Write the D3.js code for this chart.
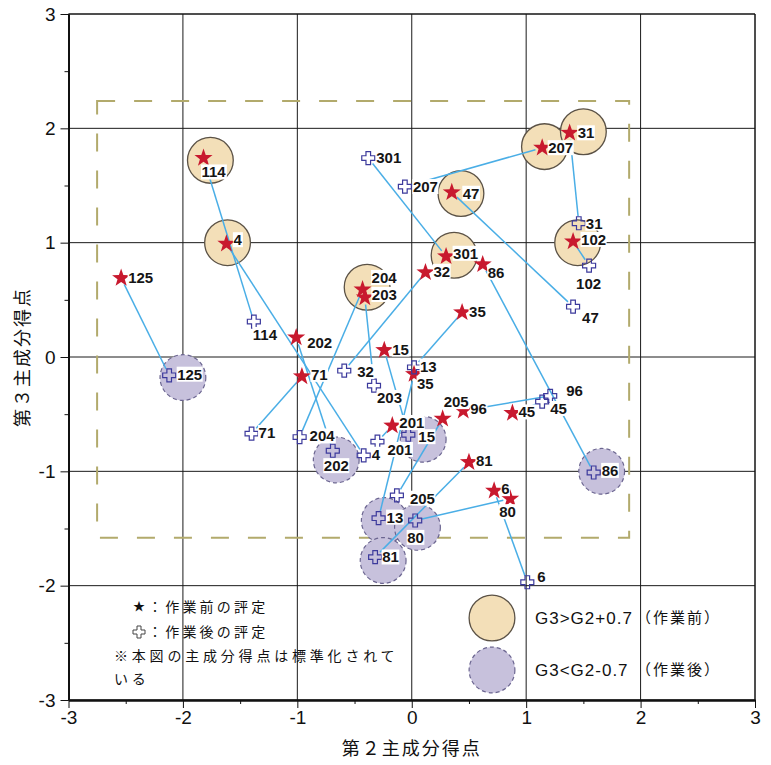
<!DOCTYPE html>
<html>
<head>
<meta charset="utf-8">
<script src="https://cdn.jsdelivr.net/npm/d3@7"></script>
<style>
  html, body { margin: 0; padding: 0; background: #fff; }
  svg { display: block; }
</style>
</head>
<body>
<script>
// ---------------- DATA ----------------
const xTicks = [-3, -2, -1, 0, 1, 2, 3];
const yTicks = [-3, -2, -1, 0, 1, 2, 3];
const xTickLabels = ["-3", "-2", "-1", "0", "1", "2", "3"];
const yTickLabels = ["-3", "-2", "-1", "0", "1", "2", "3"];
const xTitle = "第２主成分得点";
const yTitle = "第３主成分得点";

// before work (stars)
const starIds = ["125","114","4","202","71","204","203","32","301","47","86","35","15","13","201","205","96","45","81","6","80","207","31","102"];
const starX = [-2.54,-1.82,-1.62,-1.01,-0.96,-0.43,-0.41,0.12,0.30,0.35,0.62,0.44,-0.24,0.02,-0.17,0.27,0.45,0.88,0.50,0.72,0.86,1.14,1.38,1.41];
const starY = [0.69,1.74,0.99,0.17,-0.17,0.59,0.52,0.74,0.88,1.44,0.81,0.39,0.06,-0.15,-0.60,-0.54,-0.47,-0.49,-0.92,-1.17,-1.24,1.83,1.96,1.01];

// after work (crosses)
const crossIds = ["125","114","4","202","71","204","203","32","301","47","86","35","15","13","201","205","96","45","81","6","80","207","31","102"];
const crossX = [-2.12,-1.38,-0.42,-0.69,-1.40,-0.98,-0.33,-0.59,-0.38,1.41,1.59,0.02,-0.03,-0.29,-0.30,-0.13,1.21,1.14,-0.32,1.01,0.03,-0.06,1.46,1.55];
const crossY = [-0.16,0.31,-0.86,-0.82,-0.67,-0.70,-0.25,-0.12,1.74,0.44,-1.01,-0.09,-0.68,-1.41,-0.74,-1.21,-0.34,-0.39,-1.75,-1.97,-1.43,1.49,1.17,0.80];

// highlight circles: G3>G2+0.7 (before), G3<G2-0.7 (after)
const hiBeforeX = [-1.76,-1.61,-0.39,0.37,0.43,1.16,1.50,1.45];
const hiBeforeY = [1.72,1.00,0.61,0.89,1.43,1.84,1.97,1.00];
const hiAfterX = [-2.00,-0.66,0.10,1.66,-0.24,0.05,-0.25];
const hiAfterY = [-0.18,-0.90,-0.72,-1.00,-1.43,-1.49,-1.78];
const hiRadius = 0.2;

// region box
const boxX = [-2.75, 1.90];
const boxY = [-1.58, 2.24];

const legendBefore = "G3>G2+0.7";
const legendBeforeJ = "（作業前）";
const legendAfter = "G3<G2-0.7";
const legendAfterJ = "（作業後）";
const noteStar = "：作業前の評定";
const noteCross = "：作業後の評定";
const note1 = "※本図の主成分得点は標準化されて";
const note2 = "いる";

// ---------------- LAYOUT (label placement, px) ----------------
const starLabelOff = {
  "125":[7,-1],"114":[-2,14],"4":[7,-4],"202":[11,5],"71":[9,-2],"204":[9,-12],"203":[7,-3],
  "32":[8,-1],"301":[7,-3],"47":[11,1],"86":[5,8],"35":[7,-1],"15":[8,-1],"13":[6,-8],
  "201":[7,-3],"205":[1,-17],"96":[7,-2],"45":[6,-1],"81":[7,-2],"6":[7,-2],"80":[-11,13],
  "207":[6,0],"31":[8,0],"102":[8,-2]
};
const crossLabelOff = {
  "125":[8,-1],"114":[-1,13],"4":[8,-1],"202":[-9,15],"71":[7,-1],"204":[10,-1],"203":[3,12],
  "32":[13,1],"301":[8,0],"47":[9,11],"86":[8,-2],"35":[3,16],"15":[10,2],"13":[8,-1],
  "201":[10,8],"205":[13,3],"96":[16,-5],"45":[8,7],"81":[7,0],"6":[10,-6],"80":[-8,17],
  "207":[8,0],"31":[7,0],"102":[-13,18]
};

const W = 771, H = 765;
const svg = d3.select("body").append("svg").attr("width", W).attr("height", H);
const x = d3.scaleLinear().domain([-3, 3]).range([68.5, 755]);
const y = d3.scaleLinear().domain([-3, 3]).range([700, 14]);
const rPx = x(hiRadius) - x(0);

const LATIN = "'Liberation Sans', Arial, Helvetica, sans-serif";
const CJK = "'Noto Sans CJK JP', 'Noto Sans', sans-serif";

// grid
const grid = svg.append("g");
xTicks.forEach(v => {
  grid.append("line").attr("x1", x(v)).attr("x2", x(v)).attr("y1", y(3)).attr("y2", y(-3))
    .attr("stroke", "#1a1a1a").attr("stroke-width", 1);
});
yTicks.forEach(v => {
  grid.append("line").attr("x1", x(-3)).attr("x2", x(3)).attr("y1", y(v)).attr("y2", y(v))
    .attr("stroke", "#1a1a1a").attr("stroke-width", 1);
});

// dashed region box
svg.append("rect")
  .attr("x", x(boxX[0])).attr("y", y(boxY[1]))
  .attr("width", x(boxX[1]) - x(boxX[0])).attr("height", y(boxY[0]) - y(boxY[1]))
  .attr("fill", "none").attr("stroke", "#b2aa6c").attr("stroke-width", 2)
  .attr("stroke-dasharray", "18,19");

// highlight circles
svg.append("g").selectAll("circle").data(hiBeforeX.map((d, i) => [d, hiBeforeY[i]]))
  .join("circle").attr("cx", d => x(d[0])).attr("cy", d => y(d[1])).attr("r", rPx)
  .attr("fill", "#f3dfb8").attr("stroke", "#5b5246").attr("stroke-width", 1.3);
svg.append("g").selectAll("circle").data(hiAfterX.map((d, i) => [d, hiAfterY[i]]))
  .join("circle").attr("cx", d => x(d[0])).attr("cy", d => y(d[1])).attr("r", rPx)
  .attr("fill", "#c7c1dc").attr("stroke", "#6b6590").attr("stroke-width", 1.2)
  .attr("stroke-dasharray", "4,3");

// connecting lines
const stars = starIds.map((id, i) => ({ id, x: starX[i], y: starY[i] }));
const crosses = crossIds.map((id, i) => ({ id, x: crossX[i], y: crossY[i] }));
const pairs = stars.map(s => ({ s, c: crosses.find(c => c.id === s.id) })).filter(p => p.c);
const gap = 7;
const lineG = svg.append("g");
pairs.forEach(p => {
  const x1 = x(p.s.x), y1 = y(p.s.y), x2 = x(p.c.x), y2 = y(p.c.y);
  const L = Math.hypot(x2 - x1, y2 - y1);
  if (L < 2 * gap + 6) return;
  const ux = (x2 - x1) / L, uy = (y2 - y1) / L;
  lineG.append("line")
    .attr("x1", x1 + ux * gap).attr("y1", y1 + uy * gap)
    .attr("x2", x2 - ux * gap).attr("y2", y2 - uy * gap)
    .attr("stroke", "#4aaee6").attr("stroke-width", 1.5);
});

// marker shapes
function starPath(R) {
  const r = R * 0.4;
  let d = "";
  for (let k = 0; k < 10; k++) {
    const a = -Math.PI / 2 + k * Math.PI / 5;
    const rr = k % 2 === 0 ? R : r;
    d += (k === 0 ? "M" : "L") + (rr * Math.cos(a)).toFixed(2) + "," + (rr * Math.sin(a)).toFixed(2);
  }
  return d + "Z";
}
function crossPath(h, w) {
  return `M${-w},${-h}H${w}V${-w}H${h}V${w}H${w}V${h}H${-w}V${w}H${-h}V${-w}H${-w}Z`;
}

svg.append("g").selectAll("path").data(stars).join("path")
  .attr("d", starPath(9.5))
  .attr("transform", d => `translate(${x(d.x)},${y(d.y)})`)
  .attr("fill", "#c8192e");

svg.append("g").selectAll("path").data(crosses).join("path")
  .attr("d", crossPath(6.5, 2.3))
  .attr("transform", d => `translate(${x(d.x)},${y(d.y)})`)
  .attr("fill", "none").attr("stroke", "#3c3a9c").attr("stroke-width", 1.2);

// labels
const labG = svg.append("g");
function addLabel(px, py, txt) {
  const g = labG.append("g");
  const t = g.append("text").attr("x", px).attr("y", py).attr("dy", "0.36em")
    .attr("font-family", LATIN).attr("font-size", 15).attr("font-weight", "bold")
    .attr("fill", "#151515").text(txt);
  const b = t.node().getBBox();
  g.insert("rect", "text").attr("x", b.x - 0.5).attr("y", b.y + 1).attr("width", b.width + 1)
    .attr("height", b.height - 2).attr("fill", "#fff");
}
stars.forEach(s => {
  const o = starLabelOff[s.id] || [7, 0];
  addLabel(x(s.x) + o[0], y(s.y) + o[1], s.id);
});
crosses.forEach(c => {
  const o = crossLabelOff[c.id] || [7, 0];
  addLabel(x(c.x) + o[0], y(c.y) + o[1], c.id);
});

// axes
const axB = svg.append("g").attr("transform", `translate(0,${y(-3)})`)
  .call(d3.axisBottom(x).tickValues(xTicks).tickSize(8).tickSizeOuter(0).tickPadding(3)
    .tickFormat((d, i) => xTickLabels[i]));
const axBm = svg.append("g").attr("transform", `translate(0,${y(-3)})`)
  .call(d3.axisBottom(x).tickValues(d3.range(-2.5, 3, 1)).tickSize(4).tickSizeOuter(0).tickFormat(""));
const axL = svg.append("g").attr("transform", `translate(${x(-3)},0)`)
  .call(d3.axisLeft(y).tickValues(yTicks).tickSize(8).tickSizeOuter(0).tickPadding(5)
    .tickFormat((d, i) => yTickLabels[i]));
const axLm = svg.append("g").attr("transform", `translate(${x(-3)},0)`)
  .call(d3.axisLeft(y).tickValues(d3.range(-2.5, 3, 1)).tickSize(4).tickSizeOuter(0).tickFormat(""));
[axB, axL, axBm, axLm].forEach(a => {
  a.select(".domain").attr("stroke", "#111").attr("stroke-width", 2);
  a.selectAll(".tick line").attr("stroke", "#111").attr("stroke-width", 1);
  a.selectAll("text").attr("font-family", LATIN).attr("font-size", 19).attr("fill", "#111");
});
svg.append("line").attr("x1", x(-3)).attr("x2", x(3)).attr("y1", y(3)).attr("y2", y(3)).attr("stroke", "#111").attr("stroke-width", 1);
svg.append("line").attr("x1", x(3)).attr("x2", x(3)).attr("y1", y(3)).attr("y2", y(-3)).attr("stroke", "#111").attr("stroke-width", 1);

// axis titles
svg.append("text").attr("x", x(0)).attr("y", 749).attr("dy", "0.36em").attr("text-anchor", "middle")
  .attr("font-family", CJK).attr("font-size", 18).attr("letter-spacing", 2).attr("fill", "#111").text(xTitle);
svg.append("text").attr("transform", `translate(23,${y(0)}) rotate(-90)`).attr("dy", "0.36em")
  .attr("text-anchor", "middle")
  .attr("font-family", CJK).attr("font-size", 18).attr("letter-spacing", 2).attr("fill", "#111").text(yTitle);

// legend (left notes)
const noteG = svg.append("g").attr("font-family", CJK).attr("font-size", 14).attr("fill", "#111");
noteG.append("text").attr("x", 139).attr("y", 607).attr("dy", "0.36em").attr("text-anchor", "middle")
  .attr("font-size", 12).text("★");
noteG.append("text").attr("x", 148).attr("y", 607).attr("dy", "0.36em").attr("letter-spacing", 3.2).text(noteStar);
noteG.append("path").attr("d", crossPath(6, 2)).attr("transform", "translate(139,632)")
  .attr("fill", "none").attr("stroke", "#444").attr("stroke-width", 1);
noteG.append("text").attr("x", 148).attr("y", 632).attr("dy", "0.36em").attr("letter-spacing", 3.2).text(noteCross);
noteG.append("text").attr("x", 114).attr("y", 656).attr("dy", "0.36em").attr("letter-spacing", 3.8).text(note1);
noteG.append("text").attr("x", 114).attr("y", 679).attr("dy", "0.36em").attr("letter-spacing", 3.8).text(note2);

// legend (circles)
svg.append("circle").attr("cx", 492).attr("cy", 618).attr("r", rPx)
  .attr("fill", "#f3dfb8").attr("stroke", "#5b5246").attr("stroke-width", 1.3);
svg.append("circle").attr("cx", 492).attr("cy", 670).attr("r", rPx)
  .attr("fill", "#c7c1dc").attr("stroke", "#6b6590").attr("stroke-width", 1.2).attr("stroke-dasharray", "4,3");
const lg = svg.append("g").attr("fill", "#111");
[[618, legendBefore, legendBeforeJ], [670, legendAfter, legendAfterJ]].forEach(r => {
  lg.append("text").attr("x", 535).attr("y", r[0]).attr("dy", "0.36em")
    .attr("font-family", LATIN).attr("font-size", 17).attr("letter-spacing", 1).text(r[1]);
  lg.append("text").attr("x", 636).attr("y", r[0]).attr("dy", "0.36em")
    .attr("font-family", CJK).attr("font-size", 15).attr("letter-spacing", 2).text(r[2]);
});
</script>
</body>
</html>
